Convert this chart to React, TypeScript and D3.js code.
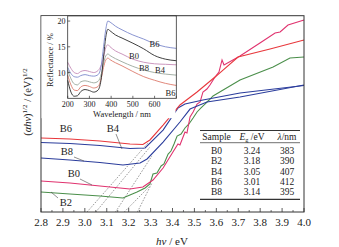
import React from "react";
import * as d3 from "d3";

// ---------- data ----------
const xTickValues = [2.8, 2.9, 3.0, 3.1, 3.2, 3.3, 3.4, 3.5, 3.6, 3.7, 3.8, 3.9, 4.0];
const samples = ["B0", "B2", "B4", "B6", "B8"];
const egValues = [3.24, 3.18, 3.05, 3.01, 3.14];
const lambdaValues = [383, 390, 407, 412, 395];

const curveB6: [number, number][] = [
  [2.8, 7.54], [2.932, 7.44], [3.069, 7.23], [3.206, 6.93], [3.265, 6.88], [3.297, 7.34],
  [3.357, 8.86], [3.434, 10.9], [3.512, 12.23], [3.594, 13.75], [3.699, 15.79], [3.845, 16.61], [4.0, 17.52],
];
const curveB4: [number, number][] = [
  [2.8, 7.08], [2.932, 6.98], [3.069, 6.77], [3.206, 6.47], [3.275, 6.52], [3.357, 8.35],
  [3.425, 10.6], [3.457, 11.0], [3.539, 11.41], [3.708, 12.12], [4.0, 12.89],
];
const curveB8: [number, number][] = [
  [2.8, 5.5], [2.932, 5.3], [3.069, 5.04], [3.174, 4.79], [3.252, 4.99], [3.284, 5.4],
  [3.357, 7.13], [3.434, 9.17], [3.48, 10.49], [3.557, 11.21], [3.708, 11.72], [4.0, 12.94],
];
const curveB0: [number, number][] = [
  [2.8, 3.16], [2.932, 2.95], [3.069, 2.65], [3.206, 2.34], [3.265, 2.55], [3.311, 3.26],
  [3.357, 4.48], [3.402, 6.11], [3.425, 6.93], [3.434, 6.83], [3.457, 8.15], [3.466, 8.05],
  [3.48, 9.68], [3.494, 10.19], [3.512, 11.0], [3.526, 11.21], [3.539, 12.23], [3.557, 12.53],
  [3.571, 12.94], [3.594, 13.75], [3.612, 14.26], [3.626, 15.49], [3.635, 14.98], [3.708, 15.89],
  [3.799, 17.22], [3.868, 18.24], [3.891, 18.34], [3.927, 19.05], [4.0, 19.56],
];
const curveB2: [number, number][] = [
  [2.8, 2.04], [2.932, 1.83], [3.069, 1.63], [3.174, 1.43], [3.238, 2.04], [3.275, 2.45],
  [3.297, 2.85], [3.311, 3.87], [3.329, 3.97], [3.348, 4.69], [3.361, 4.89], [3.38, 5.91],
  [3.393, 6.21], [3.407, 6.93], [3.421, 7.74], [3.439, 7.95], [3.457, 8.56], [3.475, 8.97],
  [3.494, 9.58], [3.512, 10.19], [3.53, 10.6], [3.548, 11.0], [3.567, 11.41], [3.585, 11.82],
  [3.708, 13.45], [3.859, 14.77], [3.936, 15.69], [4.0, 15.79],
];
// upper end points of the dashed tangents (B0, B2, B4, B6, B8)
const tangentEnds: [number, number][] = [
  [3.306, 2.95], [3.297, 2.65], [3.297, 6.62], [3.288, 7.03], [3.306, 5.71],
];

// inset: reflectance spectra
const insetWavelengths = [200, 215, 230, 245, 260, 280, 300, 320, 340, 355, 365, 375, 385, 395, 420, 450, 500, 550, 600, 650, 700];
const insetB6 = [11.0, 9.8, 9.2, 9.1, 9.4, 9.6, 9.4, 9.3, 9.6, 11.5, 15.0, 18.3, 20.0, 19.8, 19.0, 18.3, 17.3, 16.5, 15.6, 15.0, 14.7];
const insetB0 = [8.5, 6.2, 5.4, 5.5, 6.3, 6.7, 6.5, 6.2, 6.6, 9.0, 13.0, 16.8, 18.4, 18.1, 17.3, 16.7, 15.7, 14.6, 13.3, 12.6, 12.3];
const insetB8 = [12.0, 10.8, 10.0, 9.8, 10.2, 10.4, 10.2, 10.0, 10.4, 11.5, 13.0, 14.8, 15.4, 15.0, 14.2, 13.6, 12.6, 12.0, 11.7, 11.6, 11.5];
const insetB4 = [10.5, 8.8, 7.8, 7.6, 8.2, 8.4, 8.2, 8.0, 8.3, 9.8, 11.8, 13.2, 13.6, 13.3, 12.7, 12.1, 11.2, 10.5, 10.0, 9.7, 9.5];
const insetB2 = [9.5, 7.6, 6.6, 6.5, 7.2, 7.5, 7.3, 7.0, 7.3, 9.0, 11.0, 12.4, 12.8, 12.5, 11.9, 11.3, 10.2, 9.2, 8.5, 7.9, 7.5];
const insetXTicks = [200, 300, 400, 500, 600, 700];
const insetXLabels = [200, 300, 400, 500, 600];
const insetYTicks = [10, 15, 20];

const FONT = "'Liberation Serif', 'Times New Roman', serif";

export default function App() {
  const x = d3.scaleLinear().domain([2.8, 4.0]).range([41, 304]);
  const y = d3.scaleLinear().domain([0, 20]).range([212, 15.7]);
  const xi = d3.scaleLinear().domain([200, 700]).range([67.7, 176.3]);
  const yi = d3.scaleLinear().domain([5, 21]).range([98.3, 15.9]);

  const line = d3.line<[number, number]>().x((d) => x(d[0])).y((d) => y(d[1]));
  const insetLine = d3
    .line<[number, number]>()
    .x((d) => xi(d[0]))
    .y((d) => yi(d[1]))
    .curve(d3.curveMonotoneX);
  const toPairs = (vals: number[]) => insetWavelengths.map((w, i) => [w, vals[i]] as [number, number]);

  const mainCurves = [
    { d: curveB2, c: "#4b8f4b" },
    { d: curveB0, c: "#e0336f" },
    { d: curveB8, c: "#2b3d9c" },
    { d: curveB4, c: "#2b3d9c" },
    { d: curveB6, c: "#e8383c" },
  ];
  const insetCurves = [
    { d: insetB2, c: "#dc7a6c" },
    { d: insetB4, c: "#9aa79c" },
    { d: insetB8, c: "#c58bb7" },
    { d: insetB0, c: "#2a2a2a" },
    { d: insetB6, c: "#7d89cc" },
  ];

  const minorTicks = d3.range(0, 24).map((i) => 2.85 + i * 0.1).filter((v) => v < 4.0);

  const rowY0 = 154;
  const rowStep = 10.25;

  return (
    <svg width={339} height={247} style={{ position: "absolute", left: 0, top: 0, background: "#fff" }} fontFamily={FONT}>
      <rect x={0} y={0} width={339} height={247} fill="#fff" />
      {/* dashed tangents */}
      {samples.map((s, i) => (
        <line
          key={"t" + s}
          x1={x(egValues[i])}
          y1={y(0)}
          x2={x(tangentEnds[i][0])}
          y2={y(tangentEnds[i][1])}
          stroke="#555"
          strokeWidth={0.6}
          strokeDasharray="1.6,1.4"
        />
      ))}
      {/* main curves */}
      {mainCurves.map((m, i) => (
        <path key={"m" + i} d={line(m.d) || ""} fill="none" stroke={m.c} strokeWidth={1.1} />
      ))}
      {/* main frame */}
      <rect x={41} y={15.7} width={263} height={196.3} fill="none" stroke="#333" strokeWidth={1} />
      {/* x ticks */}
      {xTickValues.map((v) => (
        <line key={"xt" + v} x1={x(v)} x2={x(v)} y1={212} y2={208} stroke="#333" strokeWidth={0.8} />
      ))}
      {minorTicks.map((v, i) => (
        <line key={"xm" + i} x1={x(v)} x2={x(v)} y1={212} y2={210} stroke="#333" strokeWidth={0.7} />
      ))}
      {xTickValues.map((v) => (
        <text key={"xl" + v} x={x(v)} y={226} fontSize={11} textAnchor="middle" fill="#222">
          {v.toFixed(1)}
        </text>
      ))}
      <text x={172} y={245} fontSize={11} textAnchor="middle" fill="#222">
        <tspan fontStyle="italic">hν</tspan> / eV
      </text>
      {/* y label */}
      <text transform="translate(31,102) rotate(-90)" fontSize={10.5} textAnchor="middle" fill="#222">
        (<tspan fontStyle="italic">αhν</tspan>)<tspan fontSize={7} dy={-4}>1/2</tspan>
        <tspan dy={4}> / (eV)</tspan>
        <tspan fontSize={7} dy={-4}>1/2</tspan>
      </text>
      {/* main labels */}
      <g fontSize={10.5} fill="#222" textAnchor="middle">
        <text x={66} y={132}>B6</text>
        <text x={113} y={132}>B4</text>
        <text x={67} y={155}>B8</text>
        <text x={74} y={177}>B0</text>
        <text x={66} y={205.5}>B2</text>
      </g>
      <g stroke="#444" strokeWidth={0.6}>
        <line x1={116} y1={134} x2={122} y2={149} />
        <line x1={74} y1={157} x2={84} y2={161} />
        <line x1={80} y1={179} x2={92} y2={185} />
        <line x1={58} y1={198} x2={51} y2={192} />
      </g>
      {/* table */}
      <g fill="#222" fontSize={9.5} textAnchor="middle">
        <line x1={200} x2={300} y1={130.5} y2={130.5} stroke="#333" strokeWidth={1.2} />
        <line x1={200} x2={300} y1={142.7} y2={142.7} stroke="#333" strokeWidth={0.7} />
        <line x1={200} x2={300} y1={199.3} y2={199.3} stroke="#333" strokeWidth={1.2} />
        <text x={216.5} y={140}>Sample</text>
        <text x={252} y={140}>
          <tspan fontStyle="italic">E</tspan>
          <tspan fontSize={6.5} dy={2}>g</tspan>
          <tspan dy={-2}> /eV</tspan>
        </text>
        <text x={287} y={140}>
          <tspan fontStyle="italic">λ</tspan>/nm
        </text>
        {samples.map((s, i) => (
          <g key={"row" + s}>
            <text x={216.5} y={rowY0 + i * rowStep}>{s}</text>
            <text x={252} y={rowY0 + i * rowStep}>{egValues[i].toFixed(2)}</text>
            <text x={287} y={rowY0 + i * rowStep}>{lambdaValues[i]}</text>
          </g>
        ))}
      </g>
      {/* inset */}
      <rect x={41.5} y={16.2} width={134} height={102} fill="#fff" />
      {insetCurves.map((m, i) => (
        <path key={"i" + i} d={insetLine(toPairs(m.d)) || ""} fill="none" stroke={m.c} strokeWidth={0.9} />
      ))}
      <rect x={67.7} y={15.9} width={108.6} height={82.4} fill="none" stroke="#333" strokeWidth={0.8} />
      {insetXTicks.map((v) => (
        <line key={"ixt" + v} x1={xi(v)} x2={xi(v)} y1={98.3} y2={95.8} stroke="#333" strokeWidth={0.7} />
      ))}
      {insetYTicks.map((v) => (
        <line key={"iyt" + v} x1={67.7} x2={70.2} y1={yi(v)} y2={yi(v)} stroke="#333" strokeWidth={0.7} />
      ))}
      {insetXLabels.map((v) => (
        <text key={"ixl" + v} x={xi(v)} y={107.3} fontSize={8} textAnchor="middle" fill="#222">
          {v}
        </text>
      ))}
      {insetYTicks.map((v) => (
        <text key={"iyl" + v} x={65.5} y={yi(v) + 3} fontSize={8} textAnchor="end" fill="#222">
          {v}
        </text>
      ))}
      <text x={122} y={117} fontSize={8.5} textAnchor="middle" fill="#222">
        Wavelength / nm
      </text>
      <text transform="translate(52.5,60) rotate(-90)" fontSize={8.5} textAnchor="middle" fill="#222">
        Reflectance / %
      </text>
      <g fontSize={8.5} fill="#222" textAnchor="middle">
        <text x={154.5} y={46.5}>B6</text>
        <text x={134} y={59.3}>B0</text>
        <text x={144} y={71.3}>B8</text>
        <text x={160} y={73}>B4</text>
        <text x={170.5} y={95.5}>B6</text>
      </g>
    </svg>
  );
}
